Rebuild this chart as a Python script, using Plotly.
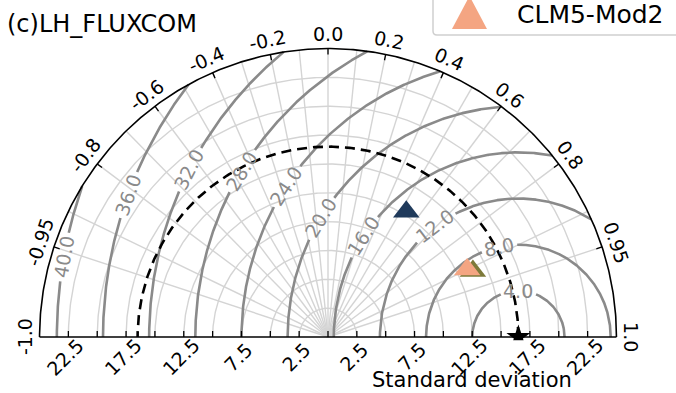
import numpy as np
import plotly.graph_objects as go

# ---------------- data ----------------
TITLE = "(c)LH_FLUXCOM"
XLABEL = "Standard deviation"
ref_std = 16.5
model_names = ["CLM5-Def", "CLM5-Mod1", "CLM5-Mod2"]
model_std = [12.8, 13.8, 13.4]
model_corr = [0.53, 0.91, 0.90]
model_colors = ["#1f3a5b", "#7d7a3a", "#f4a582"]
legend_names = ["CLM5-Mod2"]

std_max = 25.0
std_grid = [2.5, 5.0, 7.5, 10.0, 12.5, 15.0, 17.5, 20.0, 22.5]
std_tick_vals = [-22.5, -20.0, -17.5, -15.0, -12.5, -10.0, -7.5, -5.0, -2.5, 0.0,
                 2.5, 5.0, 7.5, 10.0, 12.5, 15.0, 17.5, 20.0, 22.5]
std_label_vals = [-22.5, -17.5, -12.5, -7.5, -2.5, 2.5, 7.5, 12.5, 17.5, 22.5]
corr_label_vals = [-1.0, -0.95, -0.8, -0.6, -0.4, -0.2, 0.0, 0.2, 0.4, 0.6, 0.8, 0.95, 1.0]
corr_label_text = ["-1.0", "-0.95", "-0.8", "-0.6", "-0.4", "-0.2", "0.0",
                   "0.2", "0.4", "0.6", "0.8", "0.95", "1.0"]
corr_tick_vals = [-0.95, -0.8, -0.6, -0.4, -0.2, 0.0, 0.2, 0.4, 0.6, 0.8, 0.95]
corr_grid_vals = [-0.95, -0.9, -0.8, -0.7, -0.6, -0.5, -0.4, -0.3, -0.2, -0.1, 0.0,
                  0.1, 0.2, 0.3, 0.4, 0.5, 0.6, 0.7, 0.8, 0.9, 0.95]
rms_levels = [4.0, 8.0, 12.0, 16.0, 20.0, 24.0, 28.0, 32.0, 36.0, 40.0]
rms_label_phi = [90, 102, 127, 147, 149, 147, 149, 153, 160, 170]

# ---------------- geometry ----------------
W, H = 676, 393
ML, MR, MT, MB = 28, 48, 37, 44
XR = (-26.0, 26.0)
YR = (-1.04, 26.0)
PW = W - ML - MR
PH = H - MT - MB
SC = PW / (XR[1] - XR[0])  # px per data unit

FONT = "DejaVu Sans"
GRID_C = "#d4d4d4"
CONT_C = "#8a8a8a"
FS_C = 19


def d2p(x, y):
    return (x - XR[0]) / (XR[1] - XR[0]), (y - YR[0]) / (YR[1] - YR[0])


def px2p(xp, yp):
    return (xp - ML) / PW, (H - MB - yp) / PH


def masked_xy(x, y, keep):
    xs, ys = [], []
    prev = False
    for xi, yi, k in zip(x, y, keep):
        if k:
            xs.append(float(xi)); ys.append(float(yi))
        elif prev:
            xs.append(None); ys.append(None)
        prev = k
    xs.append(None); ys.append(None)
    return xs, ys


fig = go.Figure()
th = np.linspace(0, np.pi, 361)

# std grid arcs
gx, gy = [], []
for r in std_grid:
    gx += list(r * np.cos(th)) + [None]
    gy += list(r * np.sin(th)) + [None]
# correlation grid spokes
for c in corr_grid_vals:
    a = np.arccos(c)
    gx += [0.0, std_max * np.cos(a), None]
    gy += [0.0, std_max * np.sin(a), None]
fig.add_trace(go.Scatter(x=gx, y=gy, mode="lines", line=dict(color=GRID_C, width=1.4),
                         hoverinfo="skip"))

# RMSD contours with label gaps
phi = np.linspace(0, np.pi, 2001)
cx, cy = [], []
for R, pd in zip(rms_levels, rms_label_phi):
    x = ref_std + R * np.cos(phi)
    y = R * np.sin(phi)
    lab = f"{R:.1f}"
    w = FS_C * (0.636 * (len(lab) - 1) + 0.318)
    half = (w / 2 + 3) / (R * SC)
    keep = (x ** 2 + y ** 2 <= std_max ** 2) & (np.abs(phi - np.radians(pd)) > half)
    xs, ys = masked_xy(x, y, keep)
    cx += xs; cy += ys
fig.add_trace(go.Scatter(x=cx, y=cy, mode="lines", line=dict(color=CONT_C, width=2.6),
                         hoverinfo="skip"))

# reference dashed arc
fig.add_trace(go.Scatter(x=list(ref_std * np.cos(th)), y=list(ref_std * np.sin(th)),
                         mode="lines", line=dict(color="black", width=2.6, dash="10px,6px"),
                         hoverinfo="skip"))

# outer frame: arc + baseline
fx = list(std_max * np.cos(th)) + [None, -std_max, std_max]
fy = list(std_max * np.sin(th)) + [None, 0.0, 0.0]
fig.add_trace(go.Scatter(x=fx, y=fy, mode="lines", line=dict(color="black", width=1.6),
                         hoverinfo="skip", cliponaxis=False))

# ticks
tl = 6 / SC
tx, ty = [], []
for v in std_tick_vals:
    tx += [v, v, None]; ty += [0.0, tl, None]
for c in corr_tick_vals:
    a = np.arccos(c)
    tx += [std_max * np.cos(a), (std_max - tl) * np.cos(a), None]
    ty += [std_max * np.sin(a), (std_max - tl) * np.sin(a), None]
fig.add_trace(go.Scatter(x=tx, y=ty, mode="lines", line=dict(color="black", width=1.3),
                         hoverinfo="skip"))

# reference point
fig.add_trace(go.Scatter(x=[ref_std], y=[0.0], mode="markers",
                         marker=dict(symbol="star", size=18, color="black"), hoverinfo="skip"))

# models
for n, s, c, col in zip(model_names, model_std, model_corr, model_colors):
    fig.add_trace(go.Scatter(x=[s * c], y=[s * np.sqrt(1 - c ** 2)], mode="markers", name=n,
                             marker=dict(symbol="triangle-up", size=23, color=col,
                                         line=dict(width=0))))

ann = []
# correlation labels
rl = 26.25
for v, t in zip(corr_label_vals, corr_label_text):
    a = np.arccos(v)
    xp, yp = d2p(rl * np.cos(a), rl * np.sin(a))
    ann.append(dict(x=xp, y=yp, xref="paper", yref="paper", text=t, showarrow=False,
                    xanchor="center", yanchor="middle", textangle=90 - np.degrees(a),
                    font=dict(family=FONT, size=19, color="black")))
# std labels
for v in std_label_vals:
    xp, _ = d2p(v - 3 / SC, 0)
    _, yp = px2p(0, 357)
    ann.append(dict(x=xp, y=yp, xref="paper", yref="paper", text=f"{abs(v):.1f}",
                    showarrow=False, xanchor="center", yanchor="middle", textangle=-45,
                    font=dict(family=FONT, size=19, color="black")))
# contour labels
for R, pd in zip(rms_levels, rms_label_phi):
    a = np.radians(pd)
    xp, yp = d2p(ref_std + R * np.cos(a), R * np.sin(a))
    ann.append(dict(x=xp, y=yp, xref="paper", yref="paper", text=f"{R:.1f}", showarrow=False,
                    xanchor="center", yanchor="middle", textangle=90 - pd,
                    font=dict(family=FONT, size=FS_C, color=CONT_C)))
# title, axis label, legend text
xp, yp = px2p(5, 24)
ann.append(dict(x=xp, y=yp, xref="paper", yref="paper", text=TITLE, showarrow=False,
                xanchor="left", yanchor="middle", font=dict(family=FONT, size=24, color="black")))
xp, yp = px2p(472, 380)
ann.append(dict(x=xp, y=yp, xref="paper", yref="paper", text=XLABEL, showarrow=False,
                xanchor="center", yanchor="middle", font=dict(family=FONT, size=21, color="black")))
xp, yp = px2p(515, 14)
ann.append(dict(x=xp, y=yp, xref="paper", yref="paper", text=legend_names[0], showarrow=False,
                xanchor="left", yanchor="middle", font=dict(family=FONT, size=25, color="black")))


# shapes: legend frame + legend glyph (legend cut by the figure edge),
# and clip of the star's lower half
def P(a, b):
    x, y = px2p(a, b)
    return f"{x:.5f},{y:.5f}"


legend_path = (f"M{P(433, -30)} L{P(433, 31)} Q{P(433, 35)} {P(437, 35)} "
               f"L{P(700, 35)} L{P(700, -30)} Z")
legend_glyph = f"M{P(452, 29)} L{P(487, 29)} L{P(469.5, -4)} Z"
shapes = [
    dict(type="path", xref="paper", yref="paper", path=legend_path,
         line=dict(color="#cfcfcf", width=1.5), fillcolor="white", layer="below"),
    dict(type="path", xref="paper", yref="paper", path=legend_glyph,
         line=dict(width=0), fillcolor=model_colors[2], layer="above"),
    dict(type="rect", xref="x", yref="y", x0=ref_std - 1.3, x1=ref_std + 1.3, y0=YR[0], y1=-0.28,
         line=dict(width=0), fillcolor="white", layer="above"),
]

fig.update_layout(
    width=W, height=H,
    margin=dict(l=ML, r=MR, t=MT, b=MB, pad=0),
    paper_bgcolor="white", plot_bgcolor="white",
    showlegend=False,
    xaxis=dict(range=list(XR), visible=False, fixedrange=True),
    yaxis=dict(range=list(YR), visible=False, fixedrange=True),
    annotations=ann, shapes=shapes,
)

fig.write_html("out.html", config={"displayModeBar": False},
               post_script="document.body.style.margin='0';document.body.style.overflow='hidden';")
